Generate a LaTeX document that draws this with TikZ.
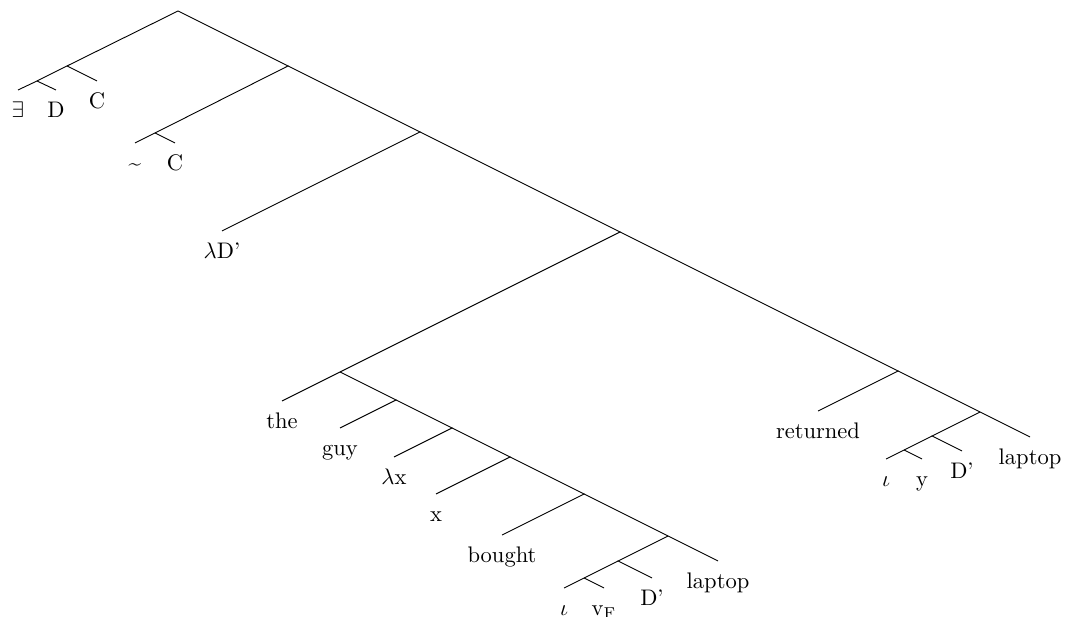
\documentclass[tikz,border=0pt]{standalone}
\usepackage{amsmath}
\usepackage{amssymb}
\usepackage{tikz}
\usetikzlibrary{positioning, calc}

\tikzset{leaf/.style={anchor=north, inner sep=2pt, text height=9.8pt, text depth=2.5pt}}

\begin{document}
\begin{tikzpicture}[x=0.444pt, y=-0.444pt]
\useasboundingbox (0,0) rectangle (1065,617);

% branching points
\coordinate (root) at (178,11);
\coordinate (exq) at (67,66);
\coordinate (exd) at (37,81);
\coordinate (neg) at (288,66);
\coordinate (negc) at (155,133);
\coordinate (lam) at (420,132);
\coordinate (top) at (620,232);
\coordinate (dp) at (340,372);
\coordinate (rel1) at (396,400);
\coordinate (rel2) at (452,428);
\coordinate (rel3) at (510,457);
\coordinate (vp1) at (584,494);
\coordinate (obj1) at (668,536);
\coordinate (obj2) at (618,561);
\coordinate (obj3) at (584,578);
\coordinate (vp) at (898,371);
\coordinate (obj4) at (980,412);
\coordinate (obj5) at (932,436);
\coordinate (obj6) at (904,450);

% leaves
\node[leaf] (ex) at (18,90) {$\exists$};
\node[leaf] (d) at (56,90) {D};
\node[leaf] (c) at (97,81) {C};
\node[leaf] (tilde) at (135,143) {\textasciitilde};
\node[leaf] (c2) at (175,143) {C};
\node[leaf] (lamd) at (222,231) {$\lambda$D'};
\node[leaf] (the) at (282,401) {the};
\node[leaf] (guy) at (340,428) {guy};
\node[leaf] (lamx) at (394,457) {$\lambda$x};
\node[leaf] (x) at (436,494) {x};
\node[leaf] (bought) at (502,535) {bought};
\node[leaf] (iota) at (564,588) {$\iota$};
\node[leaf] (vf) at (604,588) {v$_{\mathrm{F}}$};
\node[leaf] (dpr) at (652,578) {D'};
\node[leaf] (laptop) at (718,561) {laptop};
\node[leaf] (ret) at (818,411) {returned};
\node[leaf] (iota2) at (886,459) {$\iota$};
\node[leaf] (y) at (922,459) {y};
\node[leaf] (dpr2) at (962,451) {D'};
\node[leaf] (laptop2) at (1030,437) {laptop};

% edges
\draw (root) -- (exq) -- (exd) -- (ex.north);
\draw (exd) -- (d.north);
\draw (exq) -- (c.north);
\draw (root) -- (neg) -- (negc) -- (tilde.north);
\draw (negc) -- (c2.north);
\draw (neg) -- (lam) -- (lamd.north);
\draw (lam) -- (top) -- (dp) -- (the.north);
\draw (dp) -- (rel1) -- (guy.north);
\draw (rel1) -- (rel2) -- (lamx.north);
\draw (rel2) -- (rel3) -- (x.north);
\draw (rel3) -- (vp1) -- (bought.north);
\draw (vp1) -- (obj1) -- (laptop.north);
\draw (obj1) -- (obj2) -- (dpr.north);
\draw (obj2) -- (obj3) -- (iota.north);
\draw (obj3) -- (vf.north);
\draw (top) -- (vp) -- (ret.north);
\draw (vp) -- (obj4) -- (laptop2.north);
\draw (obj4) -- (obj5) -- (dpr2.north);
\draw (obj5) -- (obj6) -- (iota2.north);
\draw (obj6) -- (y.north);
\end{tikzpicture}
\end{document}
